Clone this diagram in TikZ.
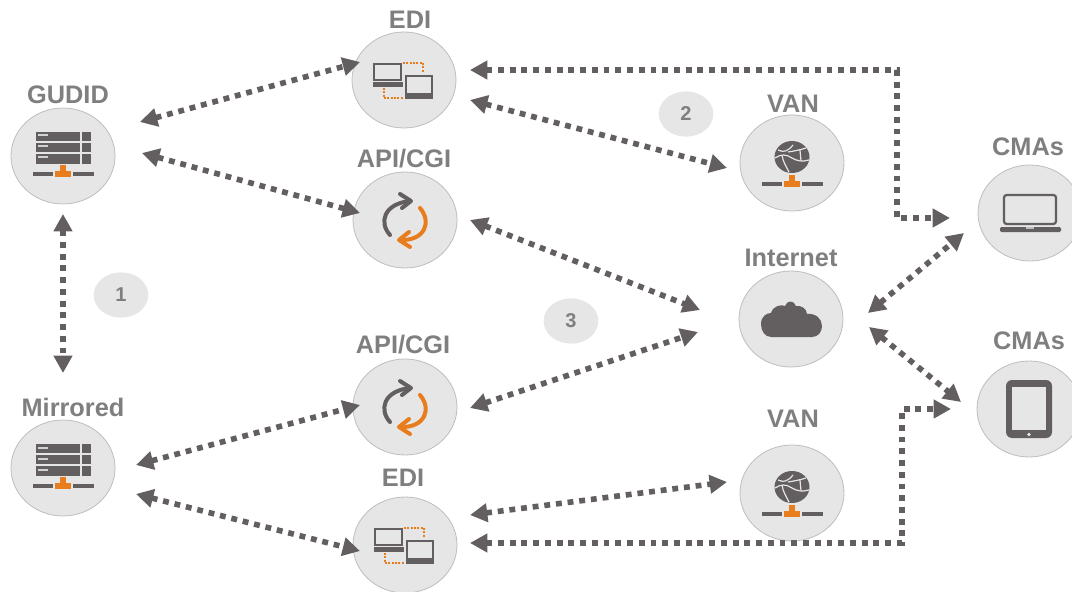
\documentclass[tikz,border=0pt]{standalone}
\usepackage{fontspec}
\setmainfont{Liberation Sans}
\usetikzlibrary{shapes.geometric,arrows.meta,calc}
\definecolor{ink}{HTML}{635E60}
\definecolor{labelgray}{HTML}{7F7F7F}
\definecolor{disc}{HTML}{E6E6E6}
\definecolor{rim}{HTML}{BDBDBD}
\definecolor{accent}{HTML}{E87D1E}
\tikzset{
  hub/.style={ellipse,fill=disc,draw=rim,line width=0.6pt,minimum width=78pt,minimum height=72pt,inner sep=0pt},
  hublabel/.style={font=\fontsize{19}{19}\selectfont\bfseries,text=labelgray,inner sep=0pt},
  badge/.style={ellipse,fill=disc,minimum width=41pt,minimum height=34pt,inner sep=0pt,font=\fontsize{15}{15}\selectfont\bfseries,text=labelgray},
  link/.style={draw=ink,line width=4.2pt,dash pattern=on 4.4pt off 4.4pt,{Triangle[length=13pt,width=13.5pt,fill=ink]}-{Triangle[length=13pt,width=13.5pt,fill=ink]}},
  standbar/.pic={
    \fill[ink] (-30,-2) rectangle (-10,2);
    \fill[ink] (10,-2) rectangle (31,2);
    \fill[accent] (-3,-9) rectangle (3,-2);
    \fill[accent] (-8,-3) rectangle (8,3);
  },
  servericon/.pic={
    \foreach \t/\b in {-24/-15,-13/-4,-2/8}{
      \fill[ink] (-27,\t) rectangle (17,\b);
      \fill[ink] (19,\t) rectangle (28,\b);
      \fill[disc!85!ink] (-25,\t+2.5) rectangle (-15,\t+4.5);
    }
    \pic at (0,18) {standbar};
  },
  ediicon/.pic={
    \draw[ink,line width=1.6pt] (-30,-16) rectangle (-3,0);
    \fill[ink] (-31,2) rectangle (-1,7);
    \draw[ink,line width=1.6pt] (2,-4) rectangle (28,14);
    \fill[ink] (1,15) rectangle (29,19);
    \draw[accent,line width=1.2pt,dash pattern=on 1.5pt off 1pt] (-1,-17) -- (19,-17) -- (19,-7);
    \draw[accent,line width=1.2pt,dash pattern=on 1.5pt off 1pt] (-20,8) -- (-20,18) -- (0,18);
  },
  cycleicon/.pic={
    \draw[ink,line width=3pt,line cap=round,line join=round] (-15,15) .. controls (-26,3) and (-22,-16) .. (5,-19);
    \draw[ink,line width=3pt,line cap=round,line join=round] (-5,-26) -- (6,-19) -- (-3,-12);
    \draw[accent,line width=3pt,line cap=round,line join=round] (15,-12) .. controls (27,2) and (20,21) .. (-5,20);
    \draw[accent,line width=3pt,line cap=round,line join=round] (4,12) -- (-6,20) -- (5,27);
  },
  globeicon/.pic={
    \fill[ink] (0,-6) ellipse (17.5 and 16);
    \draw[disc,line width=0.9pt] (-14,-13) .. controls (-8,-10) and (-4,-12) .. (1,-18);
    \draw[disc,line width=0.9pt] (-17,-5) .. controls (-11,-9) and (-6,-9) .. (0,-5) .. controls (5,-2) and (10,-1) .. (17,-3);
    \draw[disc,line width=0.9pt] (-4,-11) .. controls (2,-12) and (8,-13) .. (14,-15);
    \draw[disc,line width=0.9pt] (-10,-8) .. controls (-9,-1) and (-6,3) .. (-3,9);
    \draw[disc,line width=0.9pt] (8,-13) -- (9,-2);
    \pic at (0,21) {standbar};
  },
  cloudicon/.pic={
    \fill[ink] (-30,5) .. controls (-30,-3) and (-24,-6) .. (-20,-6)
      .. controls (-18,-13) and (-10,-15) .. (-6,-13)
      .. controls (-4,-19) and (3,-19) .. (5,-13)
      .. controls (10,-14) and (16,-10) .. (16,-5)
      .. controls (25,-6) and (31,0) .. (31,7)
      .. controls (31,13) and (27,18) .. (21,18)
      -- (-20,18) .. controls (-26,18) and (-30,12) .. cycle;
  },
  laptopicon/.pic={
    \draw[ink,line width=1.7pt,rounded corners=2pt] (-26,-18) rectangle (26,11);
    \fill[ink,rounded corners=1pt] (-30,14) rectangle (31,19);
    \fill[disc!70!ink] (-4,14) rectangle (4,16);
  },
  tableticon/.pic={
    \fill[ink,rounded corners=4.5pt] (-23,-29) rectangle (23,29);
    \fill[disc] (-17,-22) rectangle (17,21);
    \fill[disc] (0,25.5) circle (1.8);
  }
}
\begin{document}
\begin{tikzpicture}[x=0.75pt,y=-0.75pt]
\useasboundingbox (0,0) rectangle (1072,592);
\clip (0,0) rectangle (1072,592);
% discs
\node[hub] (gudid) at (63,156) {};
\node[hub] (edia) at (404,80) {};
\node[hub] (apia) at (405,220) {};
\node[hub] (vana) at (792,163) {};
\node[hub] (cmaa) at (1030,213) {};
\node[hub] (inet) at (791,319) {};
\node[hub] (cmab) at (1029,409) {};
\node[hub] (apib) at (405,407) {};
\node[hub] (vanb) at (792,493) {};
\node[hub] (mirr) at (63,468) {};
\node[hub] (edib) at (405,545) {};
% labels
\node[hublabel] (l1) at (68,95) {GUDID};
\node[hublabel] (l2) at (410,20) {EDI};
\node[hublabel] (l3) at (404,159) {API/CGI};
\node[hublabel] (l4) at (793,104) {VAN};
\node[hublabel] (l5) at (791,258) {Internet};
\node[hublabel] (l6) at (1028,147) {CMAs};
\node[hublabel] (l7) at (1029,341) {CMAs};
\node[hublabel] (l8) at (403,345) {API/CGI};
\node[hublabel] (l9) at (403,478) {EDI};
\node[hublabel] (l10) at (793,419) {VAN};
\node[hublabel] (l11) at (73,407) {Mirrored};
% badges
\node[badge] (b1) at (121,295) {1};
\node[badge] (b2) at (686,114) {2};
\node[badge] (b3) at (571,321) {3};
% icons
\pic at (gudid) {servericon};
\pic at (mirr) {servericon};
\pic at (edia) {ediicon};
\pic at (edib) {ediicon};
\pic at (apia) {cycleicon};
\pic at (apib) {cycleicon};
\pic at (vana) {globeicon};
\pic at (vanb) {globeicon};
\pic at (inet) {cloudicon};
\pic at (cmaa) {laptopicon};
\pic at (cmab) {tableticon};
% connectors
\draw[link] ($(gudid)+(77,-34)$) -- ($(edia)+(-44,-18)$);
\draw[link] ($(gudid)+(79,-3)$) -- ($(apia)+(-45,-7)$);
\draw[link] ($(edia)+(66,20)$) -- ($(vana)+(-65,5)$);
\draw[link] ($(edia)+(66,-10)$) -- (897,70) -- (897,218) -- ($(cmaa)+(-80,5)$);
\draw[link] ($(apia)+(65,0)$) -- ($(inet)+(-91,-9)$);
\draw[link] ($(inet)+(77,-6)$) -- ($(cmaa)+(-66,20)$);
\draw[link] ($(inet)+(78,8)$) -- ($(cmab)+(-68,-7)$);
\draw[link] ($(apib)+(65,1)$) -- ($(inet)+(-93,13)$);
\draw[link] ($(gudid)+(0,58)$) -- ($(mirr)+(0,-95)$);
\draw[link] ($(mirr)+(73,-3)$) -- ($(apib)+(-45,-2)$);
\draw[link] ($(mirr)+(73,26)$) -- ($(edib)+(-45,6)$);
\draw[link] ($(edib)+(65,-30)$) -- ($(vanb)+(-65,-11)$);
\draw[link] ($(edib)+(65,-2)$) -- (902,543) -- (902,409) -- ($(cmab)+(-78,0)$);
\end{tikzpicture}
\end{document}
